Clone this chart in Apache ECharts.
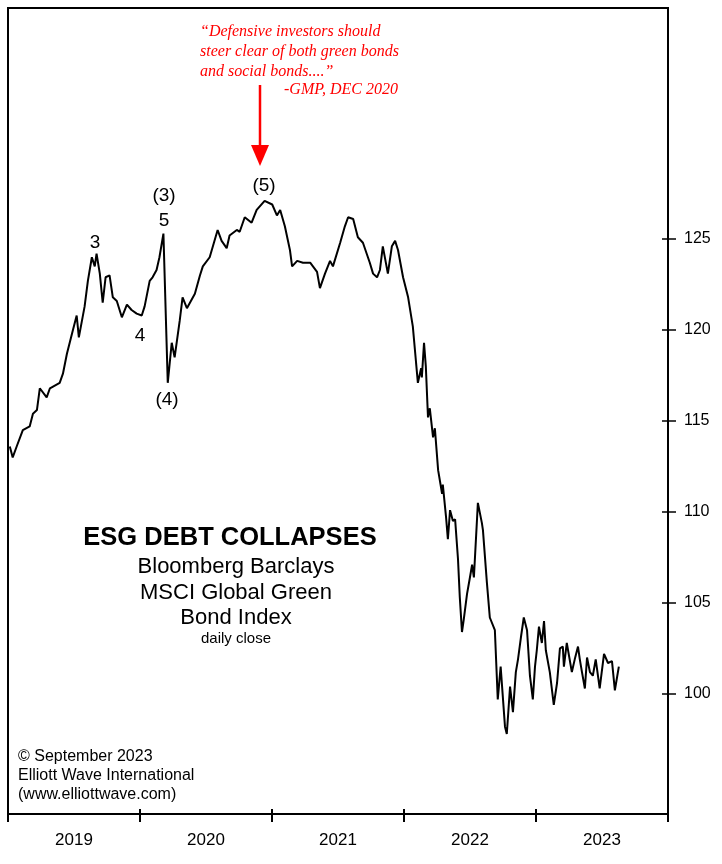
<!DOCTYPE html>
<html>
<head>
<meta charset="utf-8">
<script src="https://cdn.jsdelivr.net/npm/echarts@6/dist/echarts.min.js"></script>
<style>
html,body{margin:0;padding:0;background:#fff;}
#c{width:722px;height:864px;}
</style>
</head>
<body>
<div id="c"></div>
<script>
// ---- data ----
const dates = [
'2019-01-06','2019-01-14','2019-01-25','2019-02-11','2019-03-02','2019-03-11','2019-03-22','2019-03-30','2019-04-18','2019-04-27',
'2019-05-24','2019-06-02','2019-06-13','2019-06-27','2019-07-10','2019-07-16','2019-08-01','2019-08-10','2019-08-21','2019-08-29',
'2019-09-03','2019-09-12','2019-09-20','2019-09-28','2019-10-09','2019-10-18','2019-10-29','2019-11-12','2019-11-26','2019-12-09',
'2019-12-23','2020-01-06','2020-01-14','2020-01-28','2020-02-05','2020-02-16','2020-02-24','2020-03-06','2020-03-18','2020-03-29',
'2020-04-06','2020-04-20','2020-04-28','2020-05-10','2020-06-01','2020-06-15','2020-06-23','2020-07-12','2020-08-03','2020-08-14',
'2020-08-28','2020-09-05','2020-09-25','2020-10-03','2020-10-17','2020-11-05','2020-11-19','2020-12-11','2021-01-01','2021-01-14',
'2021-01-23','2021-02-05','2021-02-19','2021-02-25','2021-03-11','2021-03-27','2021-04-16','2021-05-05','2021-05-13','2021-05-27',
'2021-06-10','2021-06-18','2021-07-08','2021-07-21','2021-07-30','2021-08-13','2021-08-26','2021-09-09','2021-09-28','2021-10-07',
'2021-10-18','2021-10-26','2021-11-03','2021-11-17','2021-11-28','2021-12-07','2021-12-15','2021-12-29','2022-01-12','2022-01-25',
'2022-02-03','2022-02-08','2022-02-17','2022-02-19','2022-02-25','2022-03-02','2022-03-08','2022-03-13','2022-03-22','2022-03-27',
'2022-04-05','2022-04-16','2022-04-18','2022-04-27','2022-05-02','2022-05-08','2022-05-16','2022-05-22','2022-05-30','2022-06-04',
'2022-06-10','2022-06-15','2022-06-24','2022-07-02','2022-07-08','2022-07-13','2022-07-24','2022-08-04','2022-08-07','2022-08-18',
'2022-08-26','2022-09-09','2022-09-17','2022-09-25','2022-10-07','2022-10-12','2022-10-21','2022-10-29','2022-11-06','2022-11-12',
'2022-11-20','2022-11-28','2022-12-07','2022-12-15','2022-12-23','2022-12-29','2023-01-03','2023-01-09','2023-01-17','2023-01-23',
'2023-01-28','2023-02-08','2023-02-19','2023-02-28','2023-03-08','2023-03-16','2023-03-19','2023-03-27','2023-04-10','2023-04-18',
'2023-04-27','2023-05-02','2023-05-08','2023-05-16','2023-05-22','2023-05-30','2023-06-07','2023-06-15','2023-06-26','2023-07-08',
'2023-07-19','2023-07-30','2023-08-07','2023-08-18'
];
const values = [
113.6,113.0,113.6,114.5,114.7,115.4,115.6,116.8,116.3,116.8,
117.1,117.6,118.7,119.8,120.8,119.6,121.3,122.7,124.0,123.5,
124.2,123.1,121.5,122.9,123.0,121.8,121.6,120.7,121.4,121.1,
120.9,120.8,121.3,122.7,122.9,123.3,124.0,125.3,117.1,119.3,
118.5,120.5,121.8,121.2,122.0,123.0,123.5,124.0,125.5,124.9,
124.5,125.2,125.5,125.4,126.2,125.9,126.6,127.1,126.9,126.3,
126.6,125.7,124.4,123.5,123.8,123.7,123.7,123.2,122.3,123.1,
123.8,123.5,124.8,125.7,126.2,126.1,125.1,124.8,123.7,123.1,
122.9,123.3,124.6,123.1,124.6,124.9,124.4,122.9,121.8,120.2,
118.2,117.1,117.9,117.4,119.3,118.0,115.2,115.7,114.1,114.6,
112.3,111.0,111.5,109.7,108.5,110.1,109.5,109.6,107.4,105.3,
103.4,104.1,105.5,106.4,107.1,106.4,110.5,109.4,109.0,106.1,
104.2,103.5,99.7,101.5,98.2,97.8,100.4,99.0,101.2,101.9,
103.1,104.2,103.5,101.0,99.7,101.5,102.4,103.7,102.8,104.0,
102.4,101.2,99.4,100.6,102.5,102.6,101.5,102.8,101.2,101.9,
102.6,101.9,101.2,100.3,102.0,101.2,101.0,101.9,100.3,102.2,
101.7,101.8,100.2,101.5
];
const years = ['2019','2020','2021','2022','2023'];
const yTicks = [100,105,110,115,120,125];
const quoteLines = ['\u201CDefensive investors should','steer clear of both green bonds','and social bonds....\u201D'];
const quoteSource = '-GMP, DEC 2020';
const titleText = 'ESG DEBT COLLAPSES';
const subLines = ['Bloomberg Barclays','MSCI Global Green','Bond Index'];
const subNote = 'daily close';
const creditLines = ['\u00A9 September 2023','Elliott Wave International','(www.elliottwave.com)'];

const seriesData = dates.map((d,i)=>[d, values[i]]);
const F = '"Liberation Sans", Arial, sans-serif';

const chart = echarts.init(document.getElementById('c'), null, {renderer:'canvas'});

const yMin = 93.4, yMax = 137.7;
const graphics = [];
quoteLines.forEach((t,i)=>{
  graphics.push({type:'text', left:200, top:24+i*20, style:{text:t, fill:'#f00', font:'italic 16px "Liberation Serif", "Times New Roman", serif'}});
});
graphics.push({type:'text', left:284, top:82, style:{text:quoteSource, fill:'#f00', font:'italic 16px "Liberation Serif", "Times New Roman", serif'}});
// arrow
graphics.push({type:'line', shape:{x1:260,y1:85,x2:260,y2:148}, style:{stroke:'#f00', lineWidth:2.5}});
graphics.push({type:'polygon', shape:{points:[[251,145],[269,145],[260,166]]}, style:{fill:'#f00'}});
// wave labels
const wl = [['3',95,243],['(3)',164,196],['5',164,221],['4',140,336],['(4)',167,400],['(5)',264,186]];
wl.forEach(w=>{
  graphics.push({type:'text', x:w[1], y:w[2], style:{text:w[0], fill:'#000', font:'19px '+F, align:'center', verticalAlign:'middle'}});
});
graphics.push({type:'text', x:230, y:538, style:{text:titleText, fill:'#000', font:'bold 25.5px '+F, align:'center', verticalAlign:'middle'}});
subLines.forEach((t,i)=>{
  graphics.push({type:'text', x:236, y:567+i*25.5, style:{text:t, fill:'#000', font:'22px '+F, align:'center', verticalAlign:'middle'}});
});
graphics.push({type:'text', x:236, y:639, style:{text:subNote, fill:'#000', font:'15px '+F, align:'center', verticalAlign:'middle'}});
creditLines.forEach((t,i)=>{
  graphics.push({type:'text', x:18, y:757+i*19, style:{text:t, fill:'#000', font:'16px '+F, align:'left', verticalAlign:'middle'}});
});

chart.setOption({
  animation:false,
  backgroundColor:'#fff',
  grid:{left:8, right:54, top:8, bottom:50, show:true, borderColor:'#000', borderWidth:2, containLabel:false, outerBoundsMode:'none'},
  xAxis:[
    {type:'time', min:'2019-01-01', max:'2024-01-01', axisLine:{show:false}, axisTick:{show:false}, axisLabel:{show:false}, splitLine:{show:false}},
    {type:'category', data:years, position:'bottom', boundaryGap:true,
     axisLine:{show:true, lineStyle:{color:'#000', width:2}},
     axisTick:{show:true, inside:false, length:8, lineStyle:{color:'#000', width:2}},
     axisLabel:{show:true, color:'#000', fontSize:17, fontFamily:F, margin:18},
     splitLine:{show:false}},
    {type:'category', data:years, position:'bottom', boundaryGap:true,
     axisLine:{show:false},
     axisTick:{show:true, inside:true, length:5, lineStyle:{color:'#000', width:2}},
     axisLabel:{show:false}, splitLine:{show:false}}
  ],
  yAxis:[
    {type:'value', position:'right', min:yMin, max:yMax,
     axisLine:{show:true, lineStyle:{color:'#000', width:2}},
     axisTick:{show:true, inside:false, length:8, customValues:yTicks, lineStyle:{color:'#000', width:1.5}},
     axisLabel:{show:true, color:'#000', fontSize:16, fontFamily:F, margin:16, customValues:yTicks},
     splitLine:{show:false}},
    {type:'value', position:'right', min:yMin, max:yMax,
     axisLine:{show:false},
     axisTick:{show:true, inside:true, length:6, customValues:yTicks, lineStyle:{color:'#000', width:1.5}},
     axisLabel:{show:false}, splitLine:{show:false}}
  ],
  series:[{
    type:'line', xAxisIndex:0, yAxisIndex:0, data:seriesData, showSymbol:false, symbol:'none',
    lineStyle:{color:'#000', width:2}, z:5
  }],
  graphic:graphics
});
</script>
</body>
</html>
